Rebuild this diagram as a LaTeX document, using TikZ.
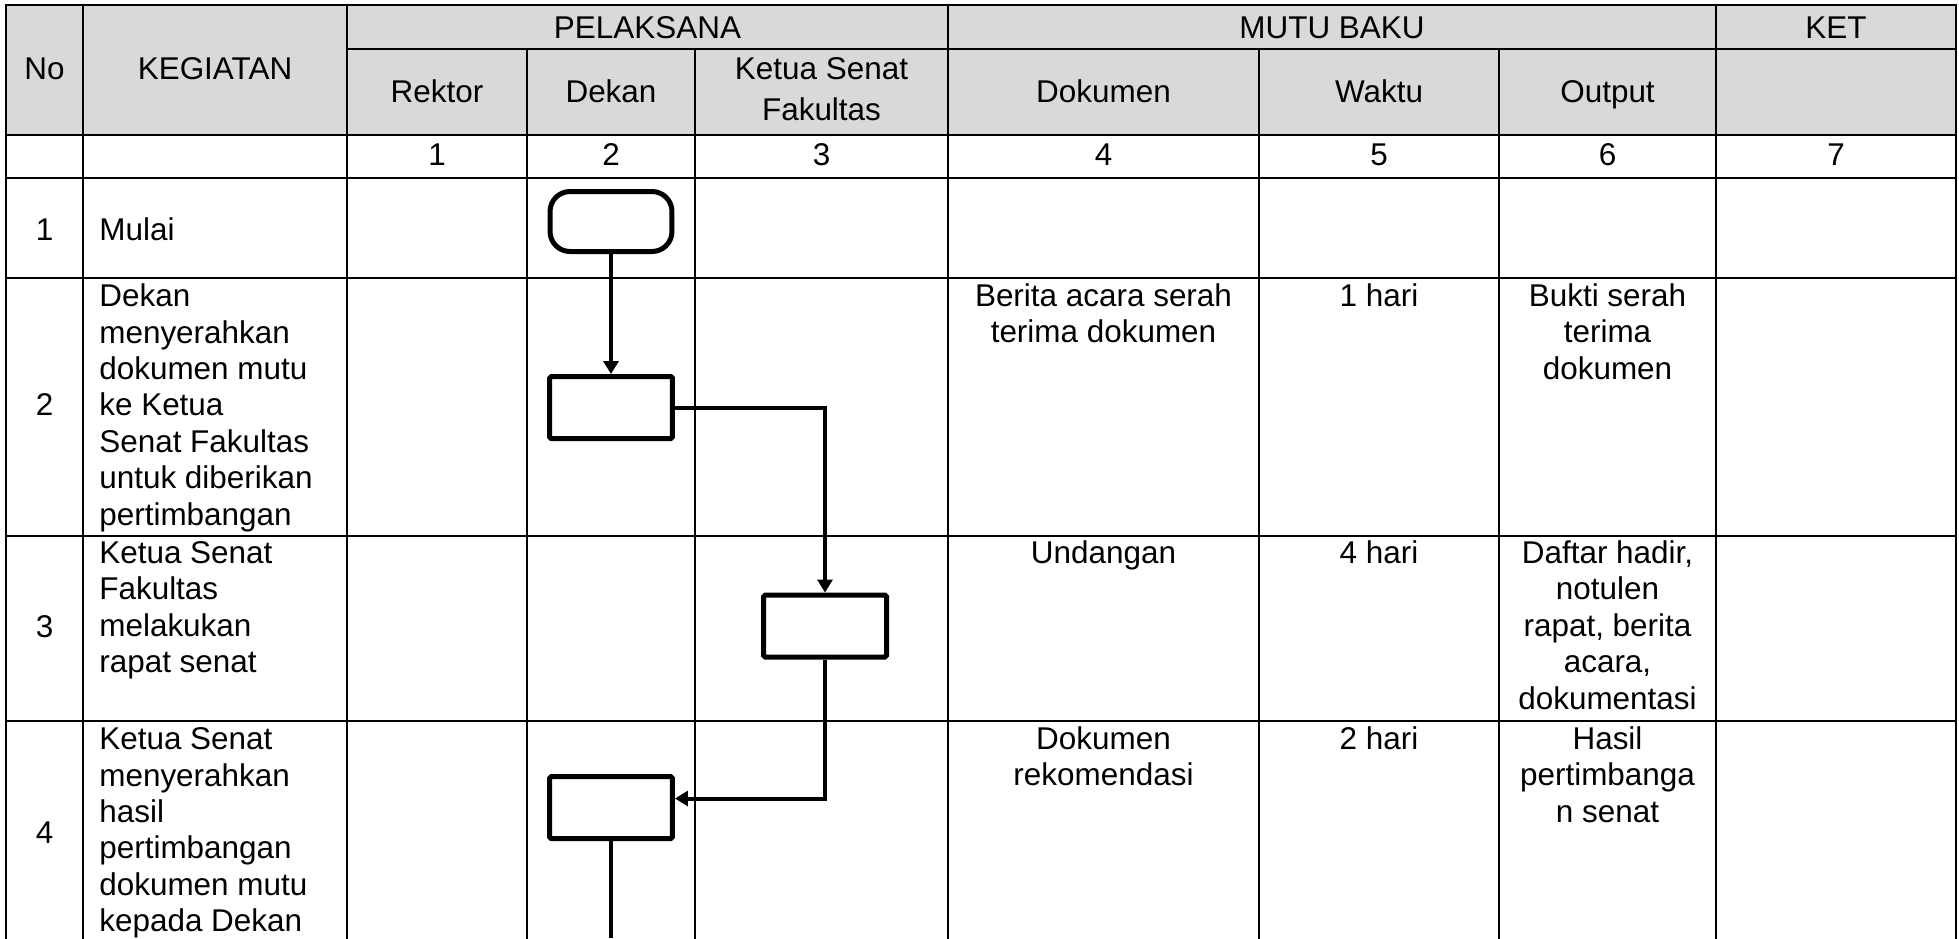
\documentclass[tikz,border=0pt]{standalone}
\usepackage{fontspec}
\setmainfont{Liberation Sans}
\usetikzlibrary{arrows.meta}
\definecolor{hdrgray}{RGB}{217,217,217}

\begin{document}
\begin{tikzpicture}[
  x=0.02cm, y=-0.02cm,
  grid/.style={line width=0.04cm, line cap=rect},
  txt/.style={inner sep=0pt, font=\fontsize{17.9}{20.7}\selectfont},
  hd/.style={inner sep=0pt, align=center, font=\fontsize{17.9}{23.5}\selectfont},
  lft/.style={txt, anchor=base west, align=left},
  ctr/.style={txt, anchor=base, align=center},
  term/.style={draw, line width=0.1cm, rounded corners=0.4cm,
               minimum width=2.44cm, minimum height=1.2cm},
  proc/.style={draw, line width=0.1cm, rounded corners=1pt,
               minimum width=2.46cm, minimum height=1.24cm},
  arr/.style={-{Triangle[length=2.6mm, width=3mm]}, line width=0.08cm},
  line/.style={line width=0.08cm}
]
  \useasboundingbox (0,0) rectangle (1959,938);

  % table
  \fill[hdrgray] (6,5) rectangle (1956,135);
  \draw[grid] (6,5) -- (1956,5);
  \draw[grid] (347,49) -- (1956,49);
  \foreach \y in {135,178,278,536,721}
    \draw[grid] (6,\y) -- (1956,\y);
  \foreach \x in {6,83,347,948,1716,1956}
    \draw[grid] (\x,5) -- (\x,938);
  \foreach \x in {527,695,1259,1499}
    \draw[grid] (\x,49) -- (\x,938);

  % header (base = last line)
  \node[hd, anchor=base] (pel)  at (647.5,38) {PELAKSANA};
  \node[hd, anchor=base] (mutu) at (1332,38)  {MUTU BAKU};
  \node[hd, anchor=base] (ket)  at (1836,38)  {KET};
  \node[hd, anchor=base] (no)   at (44.5,79)  {No};
  \node[hd, anchor=base] (keg)  at (215,79)   {KEGIATAN};
  \node[hd, anchor=base] (rek)  at (437,102)  {Rektor};
  \node[hd, anchor=base] (dek)  at (611,102)  {Dekan};
  \node[hd, anchor=base] (ksf)  at (821.5,120.5) {Ketua Senat\\Fakultas};
  \node[hd, anchor=base] (dok)  at (1103.5,102) {Dokumen};
  \node[hd, anchor=base] (wkt)  at (1379,102) {Waktu};
  \node[hd, anchor=base] (outp) at (1607.5,102) {Output};

  \node[ctr] (n1) at (437,165)    {1};
  \node[ctr] (n2) at (611,165)    {2};
  \node[ctr] (n3) at (821.5,165)  {3};
  \node[ctr] (n4) at (1103.5,165) {4};
  \node[ctr] (n5) at (1379,165)   {5};
  \node[ctr] (n6) at (1607.5,165) {6};
  \node[ctr] (n7) at (1836,165)   {7};

  % rows
  \node[ctr] (no1) at (44.5,240) {1};
  \node[lft] (kg1) at (99,240)   {Mulai};

  \node[ctr] (no2) at (44.5,415) {2};
  \node[lft] (kg2) at (99,525)   {Dekan\\menyerahkan\\dokumen mutu\\ke Ketua\\Senat Fakultas\\untuk diberikan\\pertimbangan};
  \node[ctr] (dk2) at (1103.5,342.5) {Berita acara serah\\terima dokumen};
  \node[ctr] (wk2) at (1379,306)   {1 hari};
  \node[ctr] (ot2) at (1607.5,379) {Bukti serah\\terima\\dokumen};

  \node[ctr] (no3) at (44.5,637) {3};
  \node[lft] (kg3) at (99,672.5) {Ketua Senat\\Fakultas\\melakukan\\rapat senat};
  \node[ctr] (dk3) at (1103.5,563) {Undangan};
  \node[ctr] (wk3) at (1379,563)   {4 hari};
  \node[ctr] (ot3) at (1607.5,709) {Daftar hadir,\\notulen\\rapat, berita\\acara,\\dokumentasi};

  \node[ctr] (no4) at (44.5,843) {4};
  \node[lft] (kg4) at (99,931.5) {Ketua Senat\\menyerahkan\\hasil\\pertimbangan\\dokumen mutu\\kepada Dekan};
  \node[ctr] (dk4) at (1103.5,785.5) {Dokumen\\rekomendasi};
  \node[ctr] (wk4) at (1379,749)   {2 hari};
  \node[ctr] (ot4) at (1607.5,822) {Hasil\\pertimbanga\\n senat};

  % flow
  \node[term] (start) at (611,221.5) {};
  \node[proc] (p2)    at (611,407.5) {};
  \node[proc] (p3)    at (825,626)   {};
  \node[proc] (p4)    at (611,807.5) {};
  \coordinate (bot) at (611,938);

  \draw[arr]  (start) -- (p2);
  \draw[arr]  (p2) -| (p3);
  \draw[arr]  (p3) |- ([yshift=1.8mm]p4.east);
  \draw[line] (p4) -- (bot);
\end{tikzpicture}
\end{document}
